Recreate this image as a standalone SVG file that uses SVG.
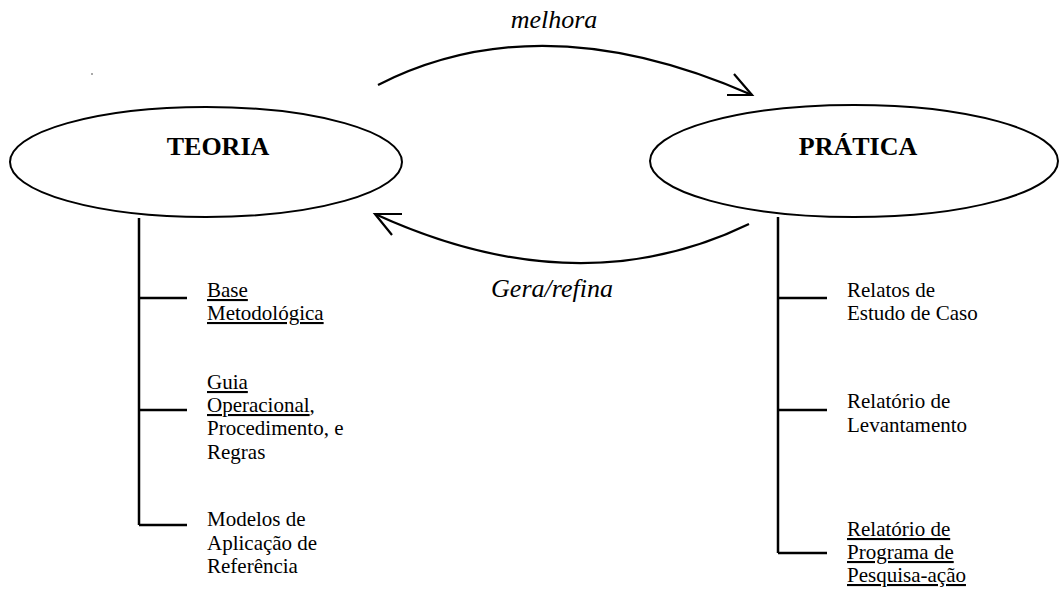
<svg xmlns="http://www.w3.org/2000/svg" width="1059" height="589" viewBox="0 0 1059 589">
<style>
  .ell { fill: #fff; stroke: #000; stroke-width: 2; }
  .title { font-weight: bold; font-size: 26px; fill: #000; }
  .lbl { font-style: italic; font-size: 26px; fill: #000; }
  .item { font-size: 21px; fill: #000; }
  .u { text-decoration: underline; }
  .arc { fill: none; stroke: #000; stroke-width: 2.2; }
  .tree { fill: none; stroke: #000; stroke-width: 2.5; }
</style>
<rect x="0" y="0" width="1059" height="589" fill="#fff"/>
<rect x="91.5" y="73" width="1" height="2" fill="#555"/>

<g id="connectors">
  <path class="arc" d="M378,85 Q541,2 752,95"/>
  <path class="arc" d="M727,95 L752,95 L734,74"/>
  <path class="arc" d="M749,224 Q578,307 375,214"/>
  <path class="arc" d="M402,214 L375,214 L392,235"/>
  <path class="tree" d="M139,218 V525 M139,298 H187 M139,410 H187 M139,525 H187"/>
  <path class="tree" d="M778,217 V553 M778,298 H827 M778,410 H827 M778,553 H827"/>
</g>

<g id="label-melhora"><text class="lbl" font-family="Liberation Serif" x="554" y="28" text-anchor="middle">melhora</text></g>
<g id="label-gera"><text class="lbl" font-family="Liberation Serif" x="552" y="297" text-anchor="middle">Gera/refina</text></g>

<g id="teoria">
  <ellipse class="ell" cx="206" cy="162" rx="196" ry="55"/>
  <text class="title" font-family="Liberation Serif" x="218" y="155" text-anchor="middle">TEORIA</text>
</g>
<g id="pratica">
  <ellipse class="ell" cx="854" cy="161" rx="204" ry="56"/>
  <text class="title" font-family="Liberation Serif" x="858" y="155" text-anchor="middle">PRÁTICA</text>
</g>

<g id="base">
  <text class="item u" font-family="Liberation Serif" x="207" y="297">Base</text>
  <text class="item u" font-family="Liberation Serif" x="207" y="320">Metodológica</text>
</g>
<g id="guia">
  <text class="item u" font-family="Liberation Serif" x="207" y="389">Guia</text>
  <text class="item u" font-family="Liberation Serif" x="207" y="412">Operacional</text>
  <text class="item" font-family="Liberation Serif" x="309.6" y="412">,</text>
  <text class="item" font-family="Liberation Serif" x="207" y="435">Procedimento, e</text>
  <text class="item" font-family="Liberation Serif" x="207" y="459">Regras</text>
</g>
<g id="modelos">
  <text class="item" font-family="Liberation Serif" x="207" y="526">Modelos de</text>
  <text class="item" font-family="Liberation Serif" x="207" y="550">Aplicação de</text>
  <text class="item" font-family="Liberation Serif" x="207" y="573">Referência</text>
</g>

<g id="relatos">
  <text class="item" font-family="Liberation Serif" x="847" y="297">Relatos de</text>
  <text class="item" font-family="Liberation Serif" x="847" y="320">Estudo de Caso</text>
</g>
<g id="levantamento">
  <text class="item" font-family="Liberation Serif" x="847" y="408">Relatório de</text>
  <text class="item" font-family="Liberation Serif" x="847" y="432">Levantamento</text>
</g>
<g id="pesquisa">
  <text class="item u" font-family="Liberation Serif" x="847" y="536">Relatório de</text>
  <text class="item u" font-family="Liberation Serif" x="847" y="559">Programa de</text>
  <text class="item u" font-family="Liberation Serif" x="847" y="582">Pesquisa-ação</text>
</g>
</svg>
